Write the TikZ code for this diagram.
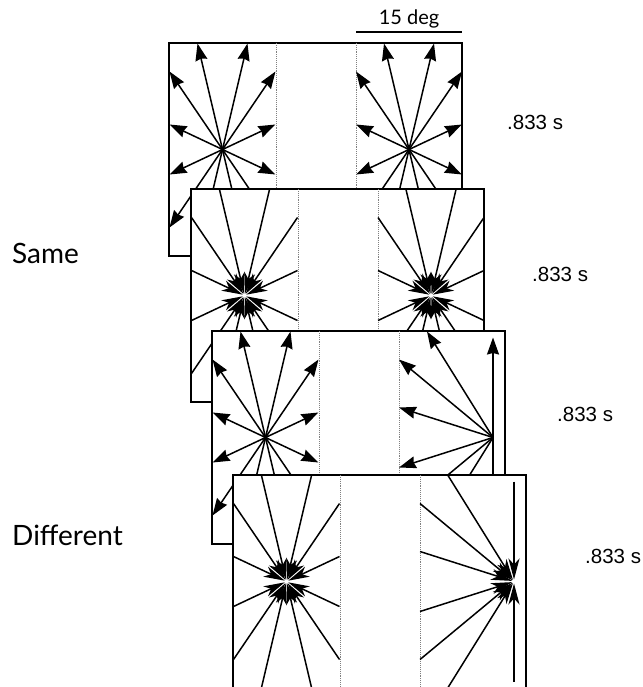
\documentclass[tikz,border=0pt]{standalone}
\usepackage{fontspec}
\setmainfont{Liberation Sans}
\newfontfamily\condfont{Lato}
\usetikzlibrary{arrows.meta,calc}

\tikzset{
  frame/.style={line width=1.4pt,fill=white},
  divider/.style={gray,densely dotted,line width=0.9pt},
  flow/.style={line width=1.5pt,-{Stealth[length=17pt,width=12pt,inset=1.5pt]}},
  inflow/.style={line width=1.5pt,-{Stealth[length=21pt,width=11pt,inset=6pt]},shorten >=2pt},
  condlabel/.style={anchor=base west,inner sep=0pt,font=\condfont\fontsize{28}{30}\selectfont},
  timelabel/.style={anchor=base west,inner sep=0pt,font=\fontsize{20.5}{22}\selectfont},
}
% end points of the fan, relative to the focus (pixels, y down)
\def\fanlist{-25/-106,25/-106,-53/-78,53/-78,-53/-25,53/-25,-53/25,53/25,-53/78,53/78,-25/106,25/106}
\def\sidelist{-66/-106,-94/-78,-94/-30,-94/30,-94/78,-66/106,0/-100,0/100}

\begin{document}
\begin{tikzpicture}[x=1pt,y=-1pt]
\useasboundingbox (0,0) rectangle (642,687);

% scale bar
\draw[line width=1.4pt] (356,32) -- (462,32) coordinate (bar);
\node[anchor=base,inner sep=0pt,font=\condfont\fontsize{20}{22}\selectfont] (deg) at (409,25) {15 deg};

% Panel 1 - same, expansion
\begin{scope}[shift={(169,43)}]
\filldraw[frame] (0,0) rectangle (293,213);
\draw[divider] (107,0) -- (107,213);
\draw[divider] (187,0) -- (187,213);
\coordinate (p1l) at (53.5,106.5);
\coordinate (p1r) at (240,106.5);
\foreach \dx/\dy in \fanlist {
  \draw[flow] (p1l) -- ++(\dx,\dy);
  \draw[flow] (p1r) -- ++(\dx,\dy);
}
\end{scope}

% Panel 2 - same, contraction
\begin{scope}[shift={(191,189)}]
\filldraw[frame] (0,0) rectangle (293,213);
\draw[divider] (107,0) -- (107,213);
\draw[divider] (187,0) -- (187,213);
\coordinate (p2l) at (53.5,106.5);
\coordinate (p2r) at (240,106.5);
\foreach \dx/\dy in \fanlist {
  \draw[inflow] ($(p2l)+(\dx,\dy)$) -- (p2l);
  \draw[inflow] ($(p2r)+(\dx,\dy)$) -- (p2r);
}
\end{scope}

% Panel 3 - different, expansion with shifted focus
\begin{scope}[shift={(212,331)}]
\filldraw[frame] (0,0) rectangle (293,213);
\draw[divider] (107,0) -- (107,213);
\draw[divider] (187,0) -- (187,213);
\coordinate (p3l) at (53.5,106.5);
\coordinate (p3r) at (281,106.5);
\foreach \dx/\dy in \fanlist
  \draw[flow] (p3l) -- ++(\dx,\dy);
\foreach \dx/\dy in \sidelist
  \draw[flow] (p3r) -- ++(\dx,\dy);
\end{scope}

% Panel 4 - different, contraction with shifted focus
\begin{scope}[shift={(233,475)}]
\filldraw[frame] (0,0) rectangle (293,213);
\draw[divider] (107,0) -- (107,213);
\draw[divider] (187,0) -- (187,213);
\coordinate (p4l) at (53.5,106.5);
\coordinate (p4r) at (281,106.5);
\foreach \dx/\dy in \fanlist
  \draw[inflow] ($(p4l)+(\dx,\dy)$) -- (p4l);
\foreach \dx/\dy in \sidelist
  \draw[inflow] ($(p4r)+(\dx,\dy)$) -- (p4r);
\end{scope}

% labels
\node[condlabel] (same) at (12,263) {Same};
\node[condlabel] (diff) at (12,545) {Different};
\node[timelabel] (t1) at (507,130) {.833 s};
\node[timelabel] (t2) at (532,281) {.833 s};
\node[timelabel] (t3) at (557,421) {.833 s};
\node[timelabel] (t4) at (585,563) {.833 s};
\end{tikzpicture}
\end{document}
